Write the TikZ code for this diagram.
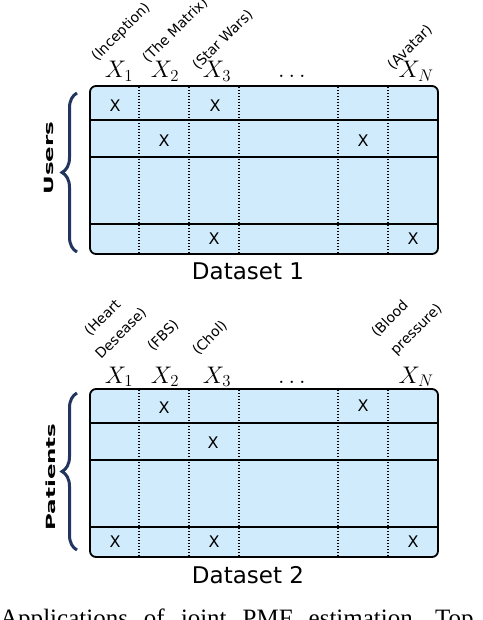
\RequirePackage{fix-cm}
\documentclass[tikz,border=0pt]{standalone}
\usepackage{fontspec}
\setmainfont{Liberation Serif}
\setsansfont{DejaVu Sans}
\usetikzlibrary{decorations.pathreplacing}
\definecolor{cellblue}{HTML}{CFEBFC}
\definecolor{bracenavy}{HTML}{22355E}
\newcommand{\widespaces}{\frenchspacing\spaceskip=16pt\relax}
\tikzset{
  table/.style={fill=cellblue, draw=black, line width=1.8pt, rounded corners=6pt},
  rowline/.style={draw=black, line width=1.8pt},
  coldots/.style={draw=black, line width=1.1pt, dash pattern=on 1.4pt off 1.6pt},
  entry/.style={font=\sffamily\fontsize{16}{16}\selectfont, inner sep=0pt},
  colvar/.style={font=\fontsize{24}{28}\selectfont, anchor=base, inner sep=0pt},
  coltag/.style={font=\sffamily\fontsize{14}{16}\selectfont, rotate=45, anchor=base west, inner sep=0pt},
  dsname/.style={font=\sffamily\fontsize{23}{26}\selectfont, anchor=base, inner sep=0pt},
  sidebrace/.style={draw=bracenavy, line width=3pt, decorate, decoration={brace, amplitude=15pt}},
  sidetag/.style={font=\sffamily\bfseries\fontsize{23}{23}\selectfont, rotate=90, yscale=0.55, anchor=center, inner sep=0pt},
  captiontext/.style={font=\fontsize{25}{28}\selectfont, anchor=base west, inner sep=0pt}
}
\begin{document}
\begin{tikzpicture}[x=1pt,y=-1pt]
\useasboundingbox (0,0) rectangle (482,620);
\begin{scope}
\clip (0,0) rectangle (482,620);

% ---------- Dataset 1 ----------
\draw[table] (90,86) rectangle (438,254);
\foreach \yy in {120,157,224} \draw[rowline] (90,\yy) -- (438,\yy);
\foreach \xx in {139,189,239,338,388} \draw[coldots] (\xx,87) -- (\xx,253);
\node[entry] (a11) at (115,106) {X};
\node[entry] (a13) at (215,106) {X};
\node[entry] (a22) at (164,141) {X};
\node[entry] (a25) at (363,141) {X};
\node[entry] (a43) at (214,239) {X};
\node[entry] (a46) at (413,239) {X};

\node[colvar] (v11) at (119,78) {$X_1$};
\node[colvar] (v12) at (165,78) {$X_2$};
\node[colvar] (v13) at (217,78) {$X_3$};
\node[colvar] (v1d) at (292,78) {$\dots$};
\node[colvar] (v1n) at (416,78) {$X_N$};

\node[coltag] (t11) at (97,62) {(Inception)};
\node[coltag] (t12) at (148,64) {(The Matrix)};
\node[coltag] (t13) at (198,71) {(Star Wars)};
\node[coltag] (t1n) at (393,71) {(Avatar)};

\node[dsname] (d1) at (248,279) {Dataset 1};

\coordinate (b1lo) at (77,252);
\coordinate (b1hi) at (77,93);
\draw[sidebrace] (b1lo) -- (b1hi);
\node[sidetag] (u1) at (48.5,158) {Users};

% ---------- Dataset 2 ----------
\draw[table] (90,389) rectangle (438,557);
\foreach \yy in {423,460,527} \draw[rowline] (90,\yy) -- (438,\yy);
\foreach \xx in {139,189,239,338,388} \draw[coldots] (\xx,390) -- (\xx,556);
\node[entry] (b12) at (164,408) {X};
\node[entry] (b15) at (363,406) {X};
\node[entry] (b23) at (213,443) {X};
\node[entry] (b41) at (115,542) {X};
\node[entry] (b43) at (214,542) {X};
\node[entry] (b46) at (413,542) {X};

\node[colvar] (v21) at (119,383) {$X_1$};
\node[colvar] (v22) at (165,383) {$X_2$};
\node[colvar] (v23) at (217,383) {$X_3$};
\node[colvar] (v2d) at (292,383) {$\dots$};
\node[colvar] (v2n) at (416,383) {$X_N$};

\node[coltag] (t21a) at (90,337) {(Heart};
\node[coltag] (t21b) at (101,360) {Desease)};
\node[coltag] (t22) at (153,352) {(FBS)};
\node[coltag] (t23) at (198,356) {(Chol)};
\node[coltag] (t2na) at (377,338) {(Blood};
\node[coltag] (t2nb) at (396,356) {pressure)};

\node[dsname] (d2) at (248,583) {Dataset 2};

\coordinate (b2lo) at (77,550);
\coordinate (b2hi) at (77,393);
\draw[sidebrace] (b2lo) -- (b2hi);
\node[sidetag] (u2) at (51,477) {Patients};

% ---------- caption (cut) ----------
\node[captiontext] (cap) at (0,626.5) {\widespaces Applications of joint PMF estimation. Top};
\end{scope}
\end{tikzpicture}
\end{document}
